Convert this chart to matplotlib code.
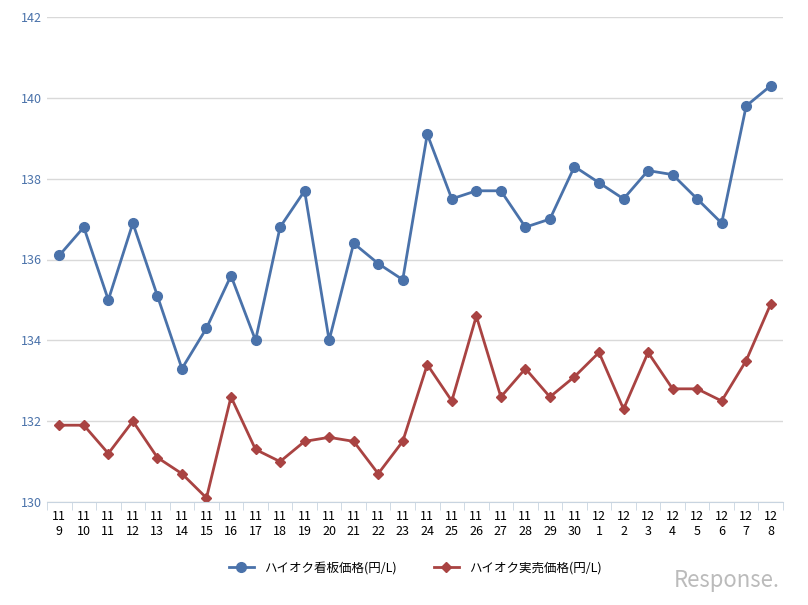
import matplotlib.pyplot as plt

months = [11]*22 + [12]*8
days = list(range(9, 31)) + list(range(1, 9))
kanban = [136.1, 136.8, 135.0, 136.9, 135.1, 133.3, 134.3, 135.6, 134.0, 136.8,
          137.7, 134.0, 136.4, 135.9, 135.5, 139.1, 137.5, 137.7, 137.7, 136.8,
          137.0, 138.3, 137.9, 137.5, 138.2, 138.1, 137.5, 136.9, 139.8, 140.3]
jitsubai = [131.9, 131.9, 131.2, 132.0, 131.1, 130.7, 130.1, 132.6, 131.3, 131.0,
            131.5, 131.6, 131.5, 130.7, 131.5, 133.4, 132.5, 134.6, 132.6, 133.3,
            132.6, 133.1, 133.7, 132.3, 133.7, 132.8, 132.8, 132.5, 133.5, 134.9]
labels = [f"{m}\n{d}" for m, d in zip(months, days)]

plt.rcParams['font.family'] = ['Noto Sans CJK JP', 'DejaVu Sans']
fig = plt.figure(figsize=(8.08, 6.05), dpi=100)
ax = fig.add_axes([47/808, 103/605, 736/808, 485/605])
x = list(range(len(days)))
ax.plot(x, kanban, color='#4a72aa', marker='o', markersize=7, linewidth=2,
        label='ハイオク看板価格(円/L)')
ax.plot(x, jitsubai, color='#a94342', marker='D', markersize=5, linewidth=2,
        label='ハイオク実売価格(円/L)')
ax.set_xlim(-0.5, len(days) - 0.5)
ax.set_ylim(130, 142)
ax.set_yticks(range(130, 143, 2))
ax.tick_params(axis='y', colors='#4a72aa', labelsize=9, length=0)
ax.set_xticks(x)
ax.set_xticklabels(labels, fontsize=9, linespacing=1.2)
ax.set_xticks([i - 0.5 for i in range(len(days) + 1)], minor=True)
ax.tick_params(axis='x', which='major', length=0, pad=6)
ax.tick_params(axis='x', which='minor', length=6, color='#c8d4e0')
ax.grid(axis='y', color='#d9d9d9', linewidth=1)
ax.set_axisbelow(True)
for s in ['top', 'right', 'left']:
    ax.spines[s].set_visible(False)
ax.spines['bottom'].set_color('#c8d4e0')
ax.legend(loc='upper center', bbox_to_anchor=(0.5, -0.1), ncol=2, frameon=False,
          fontsize=9, columnspacing=3)
fig.text(0.9, 0.03, 'Response.', fontsize=16, color='#bbbbbb', ha='center', style='italic')
plt.savefig('out.png', dpi=100)
